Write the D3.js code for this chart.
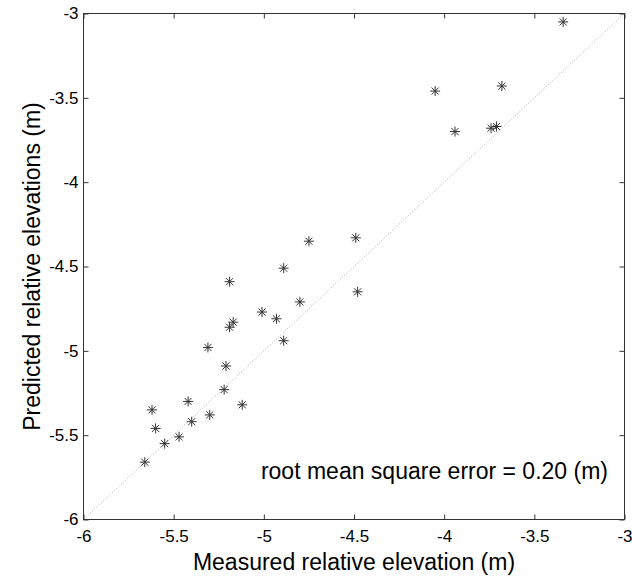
<!DOCTYPE html>
<html>
	<head>
		<meta http-equiv="Content-Type" content="text/html;charset=utf-8"/>
		<title>Predicted vs measured elevation</title>
		<script src="https://d3js.org/d3.v7.min.js"></script>
		<style type="text/css">

			body {
				margin: 0;
				background: #fff;
			}

			svg text {
				font-family: Arial, "Liberation Sans", sans-serif;
				fill: #000;
			}

			.axis path {
				display: none;
			}

			.axis line {
				stroke: #333;
			}

			.frame {
				fill: none;
				stroke: #333;
				stroke-width: 1;
			}

			.diag {
				stroke: #aaa;
				stroke-width: 1;
				stroke-dasharray: 1, 2;
			}

			.star line {
				stroke: #333;
				stroke-width: 1;
			}

		</style>
	</head>
	<body>
		<script type="text/javascript">

			//Measured elevations (x) and predicted elevations (y)
			var measured = [
				-3.34, -3.68, -4.05, -3.94, -3.74, -3.71,
				-4.75, -4.49, -4.89, -5.19, -4.48, -4.80, -5.01, -4.93, -5.17,
				-5.19, -4.89, -5.31, -5.21, -5.22, -5.42, -5.12, -5.62, -5.30,
				-5.40, -5.60, -5.47, -5.55, -5.66
			];
			var predicted = [
				-3.05, -3.43, -3.46, -3.70, -3.68, -3.67,
				-4.35, -4.33, -4.51, -4.59, -4.65, -4.71, -4.77, -4.81, -4.83,
				-4.86, -4.94, -4.98, -5.09, -5.23, -5.30, -5.32, -5.35, -5.38,
				-5.42, -5.46, -5.51, -5.55, -5.66
			];

			//Axis ticks and limits
			var ticks = [-6, -5.5, -5, -4.5, -4, -3.5, -3];
			var limits = [-6, -3];

			//Texts
			var xTitle = "Measured relative elevation (m)";
			var yTitle = "Predicted relative elevations (m)";
			var note = "root mean square error = 0.20 (m)";



			//Size of page and plot box
			var w = 632,
				h = 578,
				boxL = 83.5,
				boxT = 13.5,
				boxR = 624.5,
				boxB = 519.5;

			var x = d3.scaleLinear().domain(limits).range([boxL, boxR]);
			var y = d3.scaleLinear().domain(limits).range([boxB, boxT]);

			var fmt = function(d) { return String(d); };

			var svg = d3.select("body").append("svg")
						.attr("width", w)
						.attr("height", h);



			//Dotted 1:1 line
			svg.append("line")
				.attr("class", "diag")
				.attr("x1", x(limits[0]))
				.attr("y1", y(limits[0]))
				.attr("x2", x(limits[1]))
				.attr("y2", y(limits[1]));

			//Axes with ticks pointing inwards
			svg.append("g")
				.attr("class", "axis")
				.attr("transform", "translate(0," + boxB + ")")
				.call(d3.axisBottom(x).tickValues(ticks).tickFormat(fmt)
					.tickSizeInner(-5).tickSizeOuter(0).tickPadding(10))
				.selectAll("text")
				.style("font-size", "17px");

			svg.append("g")
				.attr("class", "axis")
				.attr("transform", "translate(" + boxL + ",0)")
				.call(d3.axisLeft(y).tickValues(ticks).tickFormat(fmt)
					.tickSizeInner(-5).tickSizeOuter(0).tickPadding(5))
				.selectAll("text")
				.style("font-size", "17px");

			svg.append("g")
				.attr("class", "axis")
				.attr("transform", "translate(0," + boxT + ")")
				.call(d3.axisTop(x).tickValues(ticks).tickFormat("")
					.tickSizeInner(-5).tickSizeOuter(0));

			svg.append("g")
				.attr("class", "axis")
				.attr("transform", "translate(" + boxR + ",0)")
				.call(d3.axisRight(y).tickValues(ticks).tickFormat("")
					.tickSizeInner(-5).tickSizeOuter(0));

			//Box round the plot
			svg.append("rect")
				.attr("class", "frame")
				.attr("x", boxL)
				.attr("y", boxT)
				.attr("width", boxR - boxL)
				.attr("height", boxB - boxT);



			//Asterisk markers
			var pts = d3.range(measured.length).map(function(i) {
				return { mx: measured[i], py: predicted[i] };
			});

			var r = 5;
			var arms = [0, 45, 90, 135];

			var stars = svg.selectAll("g.star")
				.data(pts)
				.enter()
				.append("g")
				.attr("class", "star")
				.attr("transform", function(d) {
					return "translate(" + x(d.mx) + "," + y(d.py) + ")";
				});

			stars.selectAll("line")
				.data(arms)
				.enter()
				.append("line")
				.attr("x1", function(a) { return -r * Math.cos(a * Math.PI / 180); })
				.attr("y1", function(a) { return -r * Math.sin(a * Math.PI / 180); })
				.attr("x2", function(a) { return r * Math.cos(a * Math.PI / 180); })
				.attr("y2", function(a) { return r * Math.sin(a * Math.PI / 180); });



			//Titles and note
			svg.append("text")
				.attr("x", (boxL + boxR) / 2)
				.attr("y", 570)
				.attr("text-anchor", "middle")
				.style("font-size", "23px")
				.text(xTitle);

			svg.append("text")
				.attr("transform", "translate(40," + (boxT + boxB) / 2 + ") rotate(-90)")
				.attr("text-anchor", "middle")
				.style("font-size", "23px")
				.text(yTitle);

			svg.append("text")
				.attr("x", 608)
				.attr("y", 479)
				.attr("text-anchor", "end")
				.style("font-size", "23px")
				.text(note);

		</script>
	</body>
</html>
